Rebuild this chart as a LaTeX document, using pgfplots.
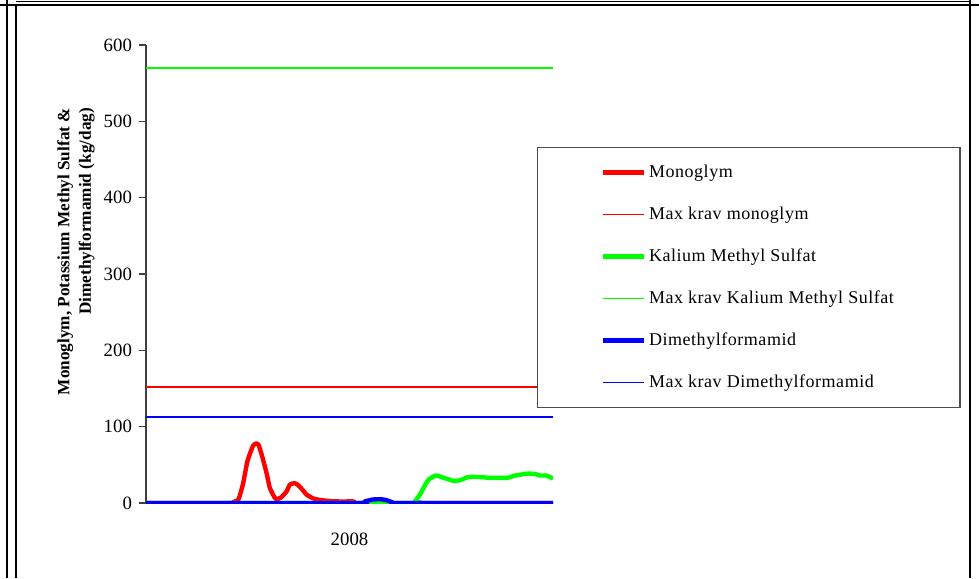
\documentclass[border=0pt]{standalone}
\usepackage{fontspec}
\setmainfont{Liberation Serif}
\usepackage{pgfplots}
\pgfplotsset{compat=1.18}

\begin{document}
\begin{tikzpicture}
\path[use as bounding box] (0,0) rectangle (489.5pt,-289pt);
\begin{axis}[
  at={(73pt,-251.5pt)}, anchor=south west,
  scale only axis,
  width=203.5pt, height=229pt,
  xmin=0, xmax=365,
  ymin=0, ymax=600,
  axis lines=left,
  axis line style={-, black!75, line width=0.6pt},
  ytick={0,100,...,600},
  ytick style={black!75, line width=0.6pt},
  tick align=outside,
  major tick length=3.5pt,
  xtick={182.5},
  xticklabels={2008},
  x tick style={draw=none},
  xticklabel style={yshift=-8pt},
  tick label style={font=\fontsize{9.4}{11}\selectfont},
  /pgf/number format/assume math mode=true,
  ylabel={Monoglym, Potassium Methyl Sulfat \&\\Dimethylformamid (kg/dag)},
  ylabel style={at={(axis description cs:-0.172,0.549)}, anchor=center,
    align=right, font=\bfseries\fontsize{8.6}{10.8}\selectfont},
  legend style={at={(axis description cs:0.9607,0.777)}, anchor=north west,
    draw=black!70, line width=0.6pt, fill=white,
    inner xsep=31.5pt, inner ysep=6.5pt, row sep=9.2pt,
    font=\fontsize{9}{11}\selectfont\addfontfeature{LetterSpace=3},
    nodes={inner xsep=1.5pt}},
  legend cell align=left,
  legend image code/.code={\draw[#1] (0pt,0pt) -- (20.5pt,0pt);},
]
% Monoglym
\addplot[red, line width=2.2pt, line join=round, smooth, tension=0.3] coordinates {
  (0,0) (74,0) (78,1) (83,5) (87,25) (91,55) (96,75) (99,78) (101,76)
  (104,62) (108,40) (111,20) (115,8) (117,5) (121,7) (126,15) (129,24)
  (133,26) (136,24) (140,18) (144,11) (150,6) (156,4) (165,2.5) (174,2)
  (187,2) (190,0) (365,0)};
\addlegendentry{Monoglym}
\addplot[red, line width=0.8pt] coordinates {(0,152) (365,152)};
\addlegendentry{Max krav monoglym}
% Kalium Methyl Sulfat
\addplot[green, line width=2.2pt, line join=round, smooth, tension=0.3] coordinates {
  (0,0) (237,0) (241,2) (246,12) (253,30) (260,36) (267,33) (276,29)
  (282,30) (289,34) (300,34) (308,33) (324,33) (331,36) (342,38.5)
  (349,38) (353,36) (359,36) (365,32)};
\addlegendentry{Kalium Methyl Sulfat}
\addplot[green, line width=0.8pt] coordinates {(0,570) (365,570)};
\addlegendentry{Max  krav Kalium Methyl Sulfat}
% Dimethylformamid
\addplot[blue, line width=2.2pt, line join=round, smooth, tension=0.3] coordinates {
  (0,0) (190,0) (196,2) (203,4.5) (210,5) (215,4) (221,1) (226,0) (365,0)};
\addlegendentry{Dimethylformamid}
\addplot[blue, line width=0.8pt] coordinates {(0,113) (365,113)};
\addlegendentry{Max krav Dimethylformamid}
\end{axis}
% surrounding table frame
\draw[line width=0.5pt] (8pt,-0.5pt) -- (485pt,-0.5pt);
\draw[line width=1pt] (0pt,-2.5pt) -- (489.5pt,-2.5pt);
\draw[line width=1pt] (3.5pt,0pt) -- (3.5pt,-289pt);
\draw[line width=0.8pt] (8pt,-2.5pt) -- (8pt,-289pt);
\draw[line width=0.8pt] (485pt,0pt) -- (485pt,-289pt);
\end{tikzpicture}
\end{document}
